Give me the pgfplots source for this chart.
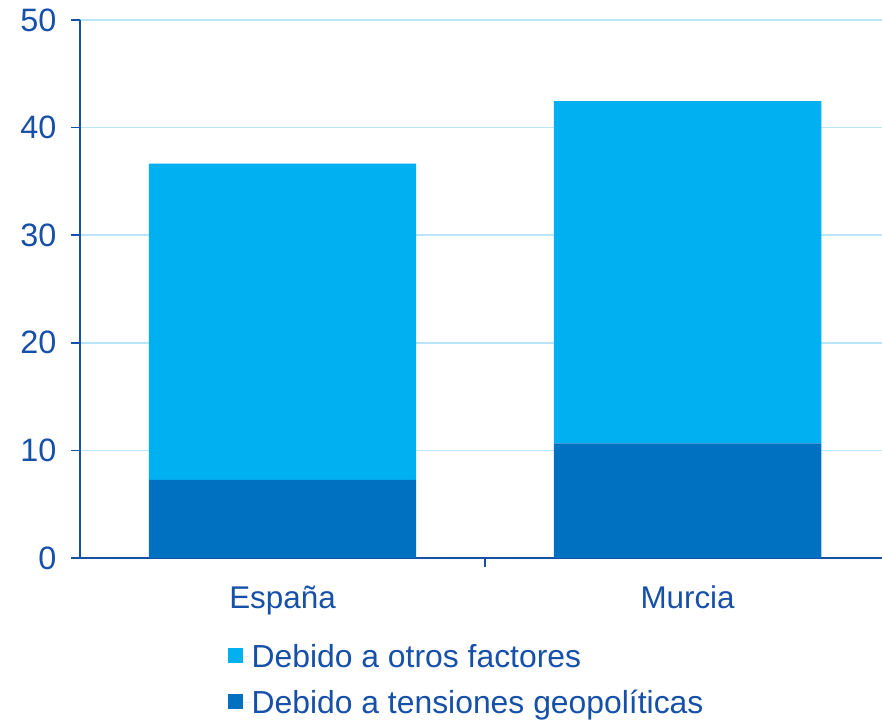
\documentclass[border=0pt]{standalone}
\usepackage{pgfplots}
\pgfplotsset{compat=1.18}
\usepackage{fontspec}
\setmainfont{Liberation Sans}
\definecolor{txtblue}{RGB}{23,80,168}
\definecolor{lightbar}{RGB}{0,176,240}
\definecolor{darkbar}{RGB}{0,112,192}
\definecolor{gridc}{RGB}{184,230,248}
\begin{document}
\begin{tikzpicture}
\path[use as bounding box] (-80bp,-165bp) rectangle (802bp,558bp);
\begin{axis}[
  at={(0,0)}, anchor=south west,
  scale only axis, width=802bp, height=538bp,
  ybar stacked, bar shift=0pt, bar width=0.66,
  xmin=-0.5, xmax=1.48, ymin=0, ymax=50,
  ytick={0,10,20,30,40,50},
  xtick={0.5}, xticklabels={},
  extra x ticks={0,1}, extra x tick labels={España,Murcia},
  extra x tick style={major tick length=0pt, xticklabel style={yshift=-24bp}},
  axis x line*=bottom, axis y line*=left,
  axis line style={txtblue, line width=1.6bp, -},
  tick style={txtblue, line width=1.6bp},
  tick align=outside, major tick length=9bp,
  ymajorgrids, grid style={gridc, line width=1.5bp},
  /pgf/number format/assume math mode=true,
  yticklabel style={font=\fontsize{32.5}{38}\selectfont, text=txtblue, xshift=-11bp},
  xticklabel style={font=\fontsize{31.5}{36}\selectfont, text=txtblue},
  legend style={at={(0.18,-0.152)}, anchor=north west, draw=none, fill=none,
    font=\fontsize{32}{36}\selectfont, text=txtblue, row sep=17bp},
  legend cell align=left,
  reverse legend,
  legend image code/.code={\fill[#1] (0bp,-7bp) rectangle (15bp,8bp); \path (15bp,0bp) -- (22bp,0bp);},
]
\addplot[fill=darkbar, draw=none] coordinates {(0,7.25) (1,10.65)};
\addplot[fill=lightbar, draw=none] coordinates {(0,29.4) (1,31.8)};
\legend{Debido a tensiones geopolíticas, Debido a otros factores}
\end{axis}
\end{tikzpicture}
\end{document}
